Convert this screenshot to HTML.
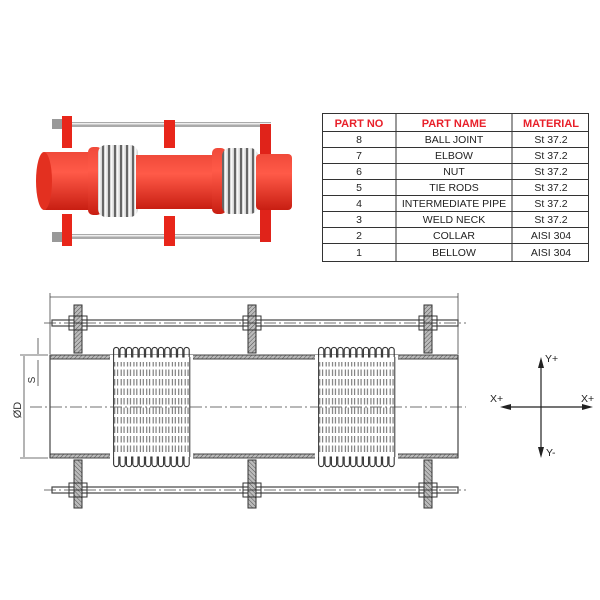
<!DOCTYPE html>
<html><head><meta charset="utf-8"><style>
html,body{margin:0;padding:0;background:#fff;}
svg{display:block;font-family:"Liberation Sans",sans-serif;}
</style></head><body>
<svg width="600" height="600" viewBox="0 0 600 600" xmlns="http://www.w3.org/2000/svg">
<defs>
<pattern id="hatch" width="3" height="3" patternUnits="userSpaceOnUse" patternTransform="rotate(45)">
<rect width="3" height="3" fill="#bbb"/><line x1="0" y1="0" x2="0" y2="3" stroke="#555" stroke-width="1"/></pattern>
<pattern id="dash" x="113" y="360" width="6.4" height="9.5" patternUnits="userSpaceOnUse">
<rect x="1.3" y="0" width="0.9" height="6.5" fill="#555"/><rect x="4.2" y="0" width="0.9" height="6.5" fill="#555"/></pattern>
<pattern id="bel" width="6" height="10" patternUnits="userSpaceOnUse">
<rect width="6" height="10" fill="#d8d8d8"/><rect x="0" width="2" height="10" fill="#666"/><rect x="3" width="1.5" height="10" fill="#f8f8f8"/></pattern>
<linearGradient id="red" x1="0" y1="0" x2="0" y2="1"><stop offset="0" stop-color="#f04a3a"/><stop offset="0.35" stop-color="#ff5a48"/><stop offset="1" stop-color="#c81e12"/></linearGradient>
<g id="bellows">
<rect x="113" y="362" width="77" height="92" fill="url(#dash)"/>
<path fill="none" stroke="#333" stroke-width="1.1" d="M113.6,357 v-7 a2.6,2.6 0 0 1 5.2,0 v7 h1.2 v-7 a2.6,2.6 0 0 1 5.2,0 v7 h1.2 v-7 a2.6,2.6 0 0 1 5.2,0 v7 h1.2 v-7 a2.6,2.6 0 0 1 5.2,0 v7 h1.2 v-7 a2.6,2.6 0 0 1 5.2,0 v7 h1.2 v-7 a2.6,2.6 0 0 1 5.2,0 v7 h1.2 v-7 a2.6,2.6 0 0 1 5.2,0 v7 h1.2 v-7 a2.6,2.6 0 0 1 5.2,0 v7 h1.2 v-7 a2.6,2.6 0 0 1 5.2,0 v7 h1.2 v-7 a2.6,2.6 0 0 1 5.2,0 v7 h1.2 v-7 a2.6,2.6 0 0 1 5.2,0 v7 h1.2 v-7 a2.6,2.6 0 0 1 5.2,0 v7"/>
<path fill="none" stroke="#333" stroke-width="1.1" d="M113.6,457 v7 a2.6,2.6 0 0 0 5.2,0 v-7 h1.2 v7 a2.6,2.6 0 0 0 5.2,0 v-7 h1.2 v7 a2.6,2.6 0 0 0 5.2,0 v-7 h1.2 v7 a2.6,2.6 0 0 0 5.2,0 v-7 h1.2 v7 a2.6,2.6 0 0 0 5.2,0 v-7 h1.2 v7 a2.6,2.6 0 0 0 5.2,0 v-7 h1.2 v7 a2.6,2.6 0 0 0 5.2,0 v-7 h1.2 v7 a2.6,2.6 0 0 0 5.2,0 v-7 h1.2 v7 a2.6,2.6 0 0 0 5.2,0 v-7 h1.2 v7 a2.6,2.6 0 0 0 5.2,0 v-7 h1.2 v7 a2.6,2.6 0 0 0 5.2,0 v-7 h1.2 v7 a2.6,2.6 0 0 0 5.2,0 v-7"/>
<line x1="113.6" y1="357" x2="113.6" y2="457" stroke="#333"/>
<line x1="189.8" y1="357" x2="189.8" y2="457" stroke="#333"/>
</g>
<g id="flangeT">
<rect x="-4" y="305" width="8" height="48" fill="url(#hatch)" stroke="#333"/>
<rect x="-9" y="316" width="18" height="14" fill="none" stroke="#333"/>
<line x1="-9" y1="323" x2="9" y2="323" stroke="#333"/>
</g>
</defs>

<!-- PHOTO -->
<g>
<rect x="56" y="122" width="215" height="5" fill="#aaa"/><rect x="56" y="123" width="215" height="1.5" fill="#eee"/>
<rect x="56" y="234" width="215" height="5" fill="#aaa"/><rect x="56" y="235" width="215" height="1.5" fill="#eee"/>
<rect x="62" y="116" width="10" height="32" fill="#e8261a"/>
<rect x="62" y="214" width="10" height="32" fill="#e8261a"/>
<rect x="164" y="120" width="11" height="28" fill="#e8261a"/>
<rect x="164" y="216" width="11" height="30" fill="#e8261a"/>
<rect x="260" y="124" width="11" height="32" fill="#e0231a"/>
<rect x="260" y="208" width="11" height="34" fill="#e0231a"/>
<rect x="40" y="152" width="55" height="58" rx="6" fill="url(#red)"/>
<ellipse cx="44" cy="181" rx="8" ry="29" fill="#e33020"/>
<rect x="88" y="147" width="14" height="68" rx="5" fill="url(#red)"/>
<rect x="98" y="145" width="40" height="72" rx="8" fill="url(#bel)"/>
<rect x="136" y="155" width="90" height="54" fill="url(#red)"/>
<rect x="212" y="148" width="14" height="66" rx="5" fill="url(#red)"/>
<rect x="222" y="148" width="36" height="66" rx="8" fill="url(#bel)"/>
<rect x="256" y="154" width="36" height="56" rx="4" fill="url(#red)"/>
<rect x="52" y="119" width="10" height="10" fill="#999"/><rect x="52" y="232" width="10" height="10" fill="#999"/>
</g>

<!-- TABLE -->
<g font-size="10.5" text-anchor="middle" fill="#222">
<rect x="322.5" y="113.5" width="266" height="148" fill="none" stroke="#333"/>
<line x1="396" y1="113.5" x2="396" y2="261.5" stroke="#333"/>
<line x1="512" y1="113.5" x2="512" y2="261.5" stroke="#333"/>
<g stroke="#333"><line x1="322" y1="131.5" x2="588" y2="131.5"/><line x1="322" y1="147.5" x2="588" y2="147.5"/><line x1="322" y1="163.5" x2="588" y2="163.5"/><line x1="322" y1="179.5" x2="588" y2="179.5"/><line x1="322" y1="195.5" x2="588" y2="195.5"/><line x1="322" y1="211.5" x2="588" y2="211.5"/><line x1="322" y1="227.5" x2="588" y2="227.5"/><line x1="322" y1="243.5" x2="588" y2="243.5"/></g>
<g fill="#e8202a" font-weight="bold" font-size="11"><text x="359" y="127">PART NO</text><text x="454" y="127">PART NAME</text><text x="551" y="127">MATERIAL</text></g>
<text x="359" y="143">8</text><text x="454" y="143">BALL JOINT</text><text x="551" y="143">St 37.2</text>
<text x="359" y="159">7</text><text x="454" y="159">ELBOW</text><text x="551" y="159">St 37.2</text>
<text x="359" y="175">6</text><text x="454" y="175">NUT</text><text x="551" y="175">St 37.2</text>
<text x="359" y="191">5</text><text x="454" y="191">TIE RODS</text><text x="551" y="191">St 37.2</text>
<text x="359" y="207">4</text><text x="454" y="207">INTERMEDIATE PIPE</text><text x="551" y="207">St 37.2</text>
<text x="359" y="223">3</text><text x="454" y="223">WELD NECK</text><text x="551" y="223">St 37.2</text>
<text x="359" y="239">2</text><text x="454" y="239">COLLAR</text><text x="551" y="239">AISI 304</text>
<text x="359" y="256">1</text><text x="454" y="256">BELLOW</text><text x="551" y="256">AISI 304</text>
</g>

<!-- DRAWING -->
<g stroke="#444" fill="none">
<line x1="50" y1="297" x2="458" y2="297" stroke-width="0.8"/>
<line x1="50" y1="293" x2="50" y2="354" stroke-width="0.8"/>
<line x1="458" y1="293" x2="458" y2="354" stroke-width="0.8"/>
<line x1="20" y1="355" x2="48" y2="355" stroke-width="0.8"/>
<line x1="20" y1="458" x2="48" y2="458" stroke-width="0.8"/>
<line x1="24" y1="356" x2="24" y2="457" stroke-width="0.8"/>
<line x1="38" y1="338" x2="38" y2="354" stroke-width="0.8"/>
<line x1="38" y1="360" x2="38" y2="386" stroke-width="0.8"/>
<rect x="52" y="320" width="406" height="6" fill="#fff" stroke-width="1.2"/>
<rect x="52" y="487" width="406" height="6" fill="#fff" stroke-width="1.2"/>
<rect x="50" y="355" width="408" height="4" fill="url(#hatch)"/>
<rect x="50" y="454" width="408" height="4" fill="url(#hatch)"/>
<line x1="50" y1="355" x2="50" y2="458" stroke-width="1.2"/>
<line x1="458" y1="355" x2="458" y2="458" stroke-width="1.2"/>
</g>
<rect x="110" y="355" width="83" height="104" fill="#fff"/>
<rect x="315" y="355" width="83" height="104" fill="#fff"/>
<use href="#bellows"/>
<use href="#bellows" transform="translate(205,0)"/>
<use href="#flangeT" transform="translate(78,0)"/>
<use href="#flangeT" transform="translate(252,0)"/>
<use href="#flangeT" transform="translate(428,0)"/>
<use href="#flangeT" transform="translate(78,813) scale(1,-1)"/>
<use href="#flangeT" transform="translate(252,813) scale(1,-1)"/>
<use href="#flangeT" transform="translate(428,813) scale(1,-1)"/>
<g stroke="#444" stroke-width="0.8" stroke-dasharray="12,3,2,3" fill="none">
<line x1="30" y1="407" x2="466" y2="407"/>
<line x1="44" y1="323" x2="466" y2="323"/>
<line x1="44" y1="490" x2="466" y2="490"/>
</g>
<g fill="#333" font-size="10">
<text transform="translate(21,410) rotate(-90)" text-anchor="middle" font-size="11">ØD</text>
<text transform="translate(35,380) rotate(-90)" text-anchor="middle">S</text>
</g>

<!-- AXES -->
<g stroke="#222" stroke-width="1.2">
<line x1="541" y1="362" x2="541" y2="453"/>
<line x1="505" y1="407" x2="588" y2="407"/>
</g>
<g fill="#222">
<polygon points="541,357 538,368 544,368"/>
<polygon points="541,458 538,447 544,447"/>
<polygon points="500,407 511,404 511,410"/>
<polygon points="593,407 582,404 582,410"/>
</g>
<g font-size="10.5" fill="#222">
<text x="545" y="362">Y+</text><text x="546" y="456">Y-</text>
<text x="490" y="402">X+</text><text x="581" y="402">X+</text>
</g>
</svg>
</body></html>
